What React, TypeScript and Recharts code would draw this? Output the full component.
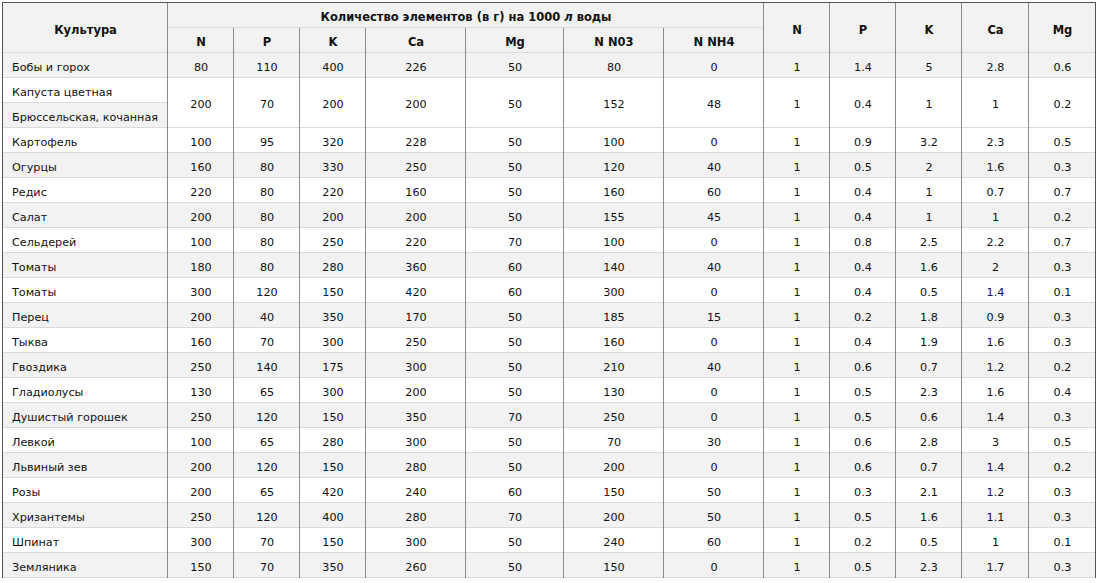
import React from 'react';
import { ScatterChart, Scatter, XAxis, YAxis } from 'recharts';

// crops; cabbage row holds two names that share one set of values
const cropNames: string[][] = [
  ['Бобы и горох'],
  ['Капуста цветная', 'Брюссельская, кочанная'],
  ['Картофель'],
  ['Огурцы'],
  ['Редис'],
  ['Салат'],
  ['Сельдерей'],
  ['Томаты'],
  ['Томаты'],
  ['Перец'],
  ['Тыква'],
  ['Гвоздика'],
  ['Гладиолусы'],
  ['Душистый горошек'],
  ['Левкой'],
  ['Львиный зев'],
  ['Розы'],
  ['Хризантемы'],
  ['Шпинат'],
  ['Земляника'],
];

// grams per 1000 l of water
const nValues = [80, 200, 100, 160, 220, 200, 100, 180, 300, 200, 160, 250, 130, 250, 100, 200, 200, 250, 300, 150];
const pValues = [110, 70, 95, 80, 80, 80, 80, 80, 120, 40, 70, 140, 65, 120, 65, 120, 65, 120, 70, 70];
const kValues = [400, 200, 320, 330, 220, 200, 250, 280, 150, 350, 300, 175, 300, 150, 280, 150, 420, 400, 150, 350];
const caValues = [226, 200, 228, 250, 160, 200, 220, 360, 420, 170, 250, 300, 200, 350, 300, 280, 240, 280, 300, 260];
const mgValues = [50, 50, 50, 50, 50, 50, 70, 60, 60, 50, 50, 50, 50, 70, 50, 50, 60, 70, 50, 50];
const no3Values = [80, 152, 100, 120, 160, 155, 100, 140, 300, 185, 160, 210, 130, 250, 70, 200, 150, 200, 240, 150];
const nh4Values = [0, 48, 0, 40, 60, 45, 0, 40, 0, 15, 0, 40, 0, 0, 30, 0, 50, 50, 60, 0];

// ratios to N
const ratioN = [1, 1, 1, 1, 1, 1, 1, 1, 1, 1, 1, 1, 1, 1, 1, 1, 1, 1, 1, 1];
const ratioP = [1.4, 0.4, 0.9, 0.5, 0.4, 0.4, 0.8, 0.4, 0.4, 0.2, 0.4, 0.6, 0.5, 0.5, 0.6, 0.6, 0.3, 0.5, 0.2, 0.5];
const ratioK = [5, 1, 3.2, 2, 1, 1, 2.5, 1.6, 0.5, 1.8, 1.9, 0.7, 2.3, 0.6, 2.8, 0.7, 2.1, 1.6, 0.5, 2.3];
const ratioCa = [2.8, 1, 2.3, 1.6, 0.7, 1, 2.2, 2, 1.4, 0.9, 1.6, 1.2, 1.6, 1.4, 3, 1.4, 1.2, 1.1, 1, 1.7];
const ratioMg = [0.6, 0.2, 0.5, 0.3, 0.7, 0.2, 0.7, 0.3, 0.1, 0.3, 0.3, 0.2, 0.4, 0.3, 0.5, 0.2, 0.3, 0.3, 0.1, 0.3];

const cultureHeader = 'Культура';
const groupHeader = ['Количество элементов (в г) на 1000 ', 'л', ' воды'];
const groupLabels = ['N', 'P', 'K', 'Ca', 'Mg', 'N N03', 'N NH4'];
const ratioLabels = ['N', 'P', 'K', 'Ca', 'Mg'];

const valueColumns = [nValues, pValues, kValues, caValues, mgValues, no3Values, nh4Values, ratioN, ratioP, ratioK, ratioCa, ratioMg];

// layout
const W = 1101;
const H = 583;
const colEdges = [3, 168, 234, 300, 366, 466, 564, 664, 764, 830, 896, 962, 1029, 1096];
const headTop = 3;
const headMid = 28;
const bodyTop = 53;
const rowH = 25;
const GRAY = '#f2f2f2';
const FONT = "'DejaVu Sans', Verdana, sans-serif";

type Cell = {
  x: number;
  y: number;
  left: number;
  right: number;
  top: number;
  bottom: number;
  text: string;
  bold?: boolean;
  alignLeft?: boolean;
  fill: string;
  title?: boolean;
};

const cells: Cell[] = [];
const addCell = (c: Omit<Cell, 'x' | 'y'>) =>
  cells.push({ ...c, x: (c.left + c.right) / 2, y: (c.top + c.bottom) / 2 });

// header
addCell({ left: colEdges[0], right: colEdges[1], top: headTop, bottom: bodyTop, text: cultureHeader, bold: true, fill: GRAY });
addCell({ left: colEdges[1], right: colEdges[8], top: headTop, bottom: headMid, text: groupHeader.join(''), bold: true, fill: GRAY, title: true });
groupLabels.forEach((t, i) =>
  addCell({ left: colEdges[1 + i], right: colEdges[2 + i], top: headMid, bottom: bodyTop, text: t, bold: true, fill: GRAY })
);
ratioLabels.forEach((t, i) =>
  addCell({ left: colEdges[8 + i], right: colEdges[9 + i], top: headTop, bottom: bodyTop, text: t, bold: true, fill: GRAY })
);

// body
let row = 0;
cropNames.forEach((names, i) => {
  names.forEach((name, k) => {
    const r = row + k;
    addCell({
      left: colEdges[0], right: colEdges[1],
      top: bodyTop + r * rowH, bottom: bodyTop + (r + 1) * rowH,
      text: name, alignLeft: true, fill: r % 2 === 0 ? GRAY : '#ffffff',
    });
  });
  valueColumns.forEach((col, c) => {
    addCell({
      left: colEdges[1 + c], right: colEdges[2 + c],
      top: bodyTop + row * rowH, bottom: bodyTop + (row + names.length) * rowH,
      text: String(col[i]), fill: row % 2 === 0 ? GRAY : '#ffffff',
    });
  });
  row += names.length;
});

const CellShape = (props: any) => {
  const { cx, cy, payload } = props;
  const c: Cell = payload;
  const w = c.right - c.left;
  const h = c.bottom - c.top;
  const x0 = cx - w / 2;
  const y0 = cy - h / 2;
  return (
    <g>
      <rect x={x0} y={y0} width={w} height={h} fill={c.fill} />
      <rect x={x0} y={y0 + h - 1} width={w} height={1} fill="#dadada" />
      <rect x={x0 + w - 1} y={y0} width={1} height={h} fill="#8a8a8a" />
      {c.left === colEdges[0] && <rect x={x0 - 1} y={y0} width={1} height={h} fill="#555" />}
      {c.top === headTop && <rect x={x0 - 1} y={y0 - 1} width={w + 1} height={1} fill="#555" />}
      {c.right === colEdges[colEdges.length - 1] && <rect x={x0 + w - 1} y={y0} width={1} height={h} fill="#555" />}
      <text
        x={c.alignLeft ? x0 + 9 : cx}
        y={cy + 1.5}
        textAnchor={c.alignLeft ? 'start' : 'middle'}
        dominantBaseline="central"
        fontFamily={FONT}
        fontSize={c.bold ? 11.5 : 11.2}
        fontWeight={c.bold ? 'bold' : 'normal'}
        fill="#111"
      >
        {c.title ? (
          <>
            {groupHeader[0]}
            <tspan fontStyle="italic">{groupHeader[1]}</tspan>
            {groupHeader[2]}
          </>
        ) : (
          c.text
        )}
      </text>
    </g>
  );
};

export default function App() {
  return (
    <div style={{ position: 'absolute', left: 0, top: 0, width: W, height: H, background: '#fff' }}>
      <ScatterChart width={W} height={H} margin={{ top: 0, right: 0, bottom: 0, left: 0 }}>
        <XAxis type="number" dataKey="x" domain={[0, W]} hide />
        <YAxis type="number" dataKey="y" domain={[0, H]} reversed hide />
        <Scatter data={cells} shape={CellShape} isAnimationActive={false} />
      </ScatterChart>
    </div>
  );
}
